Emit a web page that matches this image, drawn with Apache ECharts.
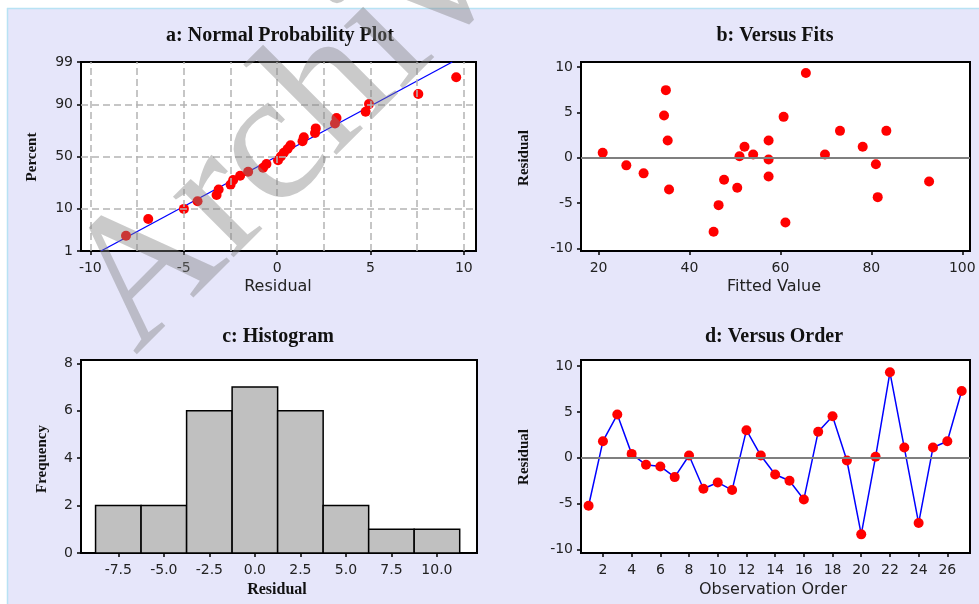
<!DOCTYPE html>
<html><head><meta charset="utf-8">
<script src="https://cdn.jsdelivr.net/npm/echarts@6/dist/echarts.min.js"></script>
<style>html,body{margin:0;padding:0;background:#fff}#c{width:979px;height:604px}</style>
</head><body><div id="c"></div>
<script>
// ---------- data ----------
// a: normal probability plot (residuals, plotted percent)
const probResid = [-8.09,-6.90,-4.99,-4.26,-3.24,-3.13,-2.49,-2.35,-1.98,-1.55,-0.75,-0.57,0.05,0.20,0.36,0.56,0.72,1.36,1.43,2.03,2.07,3.10,3.18,4.74,4.92,7.56,9.59];
const probPct = [2.55,6.2,9.85,13.5,17.15,20.8,24.45,28.1,31.75,35.4,39.05,42.7,46.35,50,53.65,57.3,60.95,64.6,68.25,71.9,75.55,79.2,82.85,86.5,90.15,93.8,97.45];
const probTicks = [1,10,50,90,99];
const fitLineResid = [-9.43, 9.38];
const fitLinePct = [1, 99];
const residTicksA = [-10,-5,0,5,10];
const residGridA = [-10,-7.5,-5,-2.5,0,2.5,5,7.5,10];
// b: versus fits
const fittedVals = [20.9,26.1,29.9,34.8,34.4,35.2,35.5,45.3,46.4,47.6,50.5,51.0,52.1,54.0,57.4,57.4,57.4,60.7,61.1,65.6,69.8,73.1,78.1,81.0,81.4,83.3,92.7];
const fitsResid = [0.55,-0.83,-1.71,7.45,4.66,1.91,-3.48,-8.14,-5.21,-2.42,-3.3,0.18,1.21,0.37,1.91,-0.18,-2.05,4.51,-7.13,9.34,0.37,2.97,1.21,-0.70,-4.33,2.97,-2.61];
const fittedTicks = [20,40,60,80,100];
const residTicks = [-10,-5,0,5,10];
// c: histogram
const histCenters = [-7.5,-5,-2.5,0,2.5,5,7.5,10];
const histCounts = [2,2,6,7,6,2,1,1];
const histBinWidth = 2.5;
const freqTicks = [0,2,4,6,8];
// d: versus order
const orderIdx = [1,2,3,4,5,6,7,8,9,10,11,12,13,14,15,16,17,18,19,20,21,22,23,24,25,26,27];
const orderResid = [-5.22,1.81,4.71,0.43,-0.76,-0.94,-2.10,0.25,-3.37,-2.68,-3.51,3.01,0.25,-1.81,-2.50,-4.53,2.83,4.53,-0.29,-8.33,0.11,9.31,1.12,-7.10,1.12,1.81,7.28];
const orderTicks = [2,4,6,8,10,12,14,16,18,20,22,24,26];

// ---------- helpers ----------
function norminv(p){
  const a=[-3.969683028665376e+01,2.209460984245205e+02,-2.759285104469687e+02,1.383577518672690e+02,-3.066479806614716e+01,2.506628277459239e+00];
  const b=[-5.447609879822406e+01,1.615858368580409e+02,-1.556989798598866e+02,6.680131188771972e+01,-1.328068155288572e+01];
  const c=[-7.784894002430293e-03,-3.223964580411365e-01,-2.400758277161838e+00,-2.549732539343734e+00,4.374664141464968e+00,2.938163982698783e+00];
  const d=[7.784695709041462e-03,3.224671290700398e-01,2.445134137142996e+00,3.754408661907416e+00];
  const pl=0.02425, ph=1-pl; let q,r;
  if(p<pl){q=Math.sqrt(-2*Math.log(p));return (((((c[0]*q+c[1])*q+c[2])*q+c[3])*q+c[4])*q+c[5])/((((d[0]*q+d[1])*q+d[2])*q+d[3])*q+1);}
  if(p<=ph){q=p-0.5;r=q*q;return (((((a[0]*r+a[1])*r+a[2])*r+a[3])*r+a[4])*r+a[5])*q/(((((b[0]*r+b[1])*r+b[2])*r+b[3])*r+b[4])*r+1);}
  q=Math.sqrt(-2*Math.log(1-p));return -(((((c[0]*q+c[1])*q+c[2])*q+c[3])*q+c[4])*q+c[5])/((((d[0]*q+d[1])*q+d[2])*q+d[3])*q+1);
}
const zTicks = probTicks.map(p => norminv(p/100));

const SANS = '"DejaVu Sans", Verdana, sans-serif';
const SERIF = '"Liberation Serif", "Times New Roman", serif';

function vAxis(gridIndex, min, max, ticks, fmt, margin){
  return {
    type:'value', gridIndex, min, max, scale:true,
    axisLine:{show:false, onZero:false},
    axisTick:{show:true, inside:false, length:4, customValues:ticks, lineStyle:{color:'#000', width:1.5}},
    axisLabel:{show:true, customValues:ticks, formatter:fmt || (v=>String(v)), color:'#222', fontFamily:SANS, fontSize:14, margin:margin||8},
    splitLine:{show:false}
  };
}
const gridStyle = {show:true, borderColor:'#000', borderWidth:2, backgroundColor:'#fff', containLabel:false};

const RED = '#ff0000';

const option = {
  animation:false,
  backgroundColor:'#e6e6fa',
  grid:[
    Object.assign({left:81, top:62, width:395, height:189}, gridStyle),
    Object.assign({left:581, top:62, width:389, height:189}, gridStyle),
    Object.assign({left:81, top:360, width:396, height:193}, gridStyle),
    Object.assign({left:581, top:360, width:389, height:193}, gridStyle)
  ],
  xAxis:[
    vAxis(0, -10.5, 10.65, residTicksA, null, 10),
    vAxis(1, 16.13, 101.7, fittedTicks, null, 10),
    vAxis(2, -9.55, 12.2, histCenters, v=>v.toFixed(1), 10),
    vAxis(3, 0.47, 27.58, orderTicks, null, 10)
  ],
  yAxis:[
    vAxis(0, zTicks[0], zTicks[zTicks.length-1], zTicks, v=>{const i=zTicks.findIndex(z=>Math.abs(z-v)<1e-6);return i>=0?String(probTicks[i]):'';}, 8),
    vAxis(1, -10.26, 10.55, residTicks, null, 8),
    vAxis(2, 0, 8.14, freqTicks, null, 8),
    vAxis(3, -10.36, 10.65, residTicks, null, 8)
  ],
  series:[
    // a: grid lines
    {type:'line', xAxisIndex:0, yAxisIndex:0, data:[], z:1, silent:true,
     markLine:{silent:true, symbol:['none','none'], label:{show:false}, animation:false,
       lineStyle:{color:'#b4b4b4', type:[7,4], width:1.5},
       data: residGridA.map(v=>({xAxis:v})).concat(zTicks.slice(1,-1).map(z=>({yAxis:z})))}},
    {type:'line', xAxisIndex:0, yAxisIndex:0, z:2, symbol:'none', silent:true,
     lineStyle:{color:'#0000ff', width:1.3},
     data: fitLineResid.map((x,i)=>[x, norminv(fitLinePct[i]/100)])},
    {type:'scatter', xAxisIndex:0, yAxisIndex:0, z:3, symbol:'circle', symbolSize:10,
     itemStyle:{color:RED, opacity:1},
     data: probResid.map((x,i)=>[x, norminv(probPct[i]/100)])},
    // b
    {type:'line', xAxisIndex:1, yAxisIndex:1, data:[], z:1, silent:true,
     markLine:{silent:true, symbol:['none','none'], label:{show:false}, animation:false,
       lineStyle:{color:'#7f7f7f', type:'solid', width:1.8}, data:[{yAxis:0}]}},
    {type:'scatter', xAxisIndex:1, yAxisIndex:1, z:3, symbol:'circle', symbolSize:10,
     itemStyle:{color:RED, opacity:1},
     data: fittedVals.map((x,i)=>[x, fitsResid[i]])},
    // c
    {type:'custom', xAxisIndex:2, yAxisIndex:2, z:2,
     data: histCenters.map((c,i)=>[c, histCounts[i]]),
     renderItem:(params, api)=>{
       const c=api.value(0), n=api.value(1);
       const p0=api.coord([c-histBinWidth/2, n]);
       const p1=api.coord([c+histBinWidth/2, 0]);
       return {type:'rect', shape:{x:p0[0], y:p0[1], width:p1[0]-p0[0], height:p1[1]-p0[1]},
               style:{fill:'#c0c0c0', stroke:'#000', lineWidth:1.5}};
     }},
    // d
    {type:'line', xAxisIndex:3, yAxisIndex:3, data:[], z:1, silent:true,
     markLine:{silent:true, symbol:['none','none'], label:{show:false}, animation:false,
       lineStyle:{color:'#7f7f7f', type:'solid', width:1.8}, data:[{yAxis:0}]}},
    {type:'line', xAxisIndex:3, yAxisIndex:3, z:3, symbol:'circle', symbolSize:10, showAllSymbol:true,
     lineStyle:{color:'#0000ff', width:1.5}, itemStyle:{color:RED, borderWidth:0, opacity:1},
     data: orderIdx.map((x,i)=>[x, orderResid[i]])}
  ],
  graphic:[
    {type:'rect', z:-5, shape:{x:0,y:0,width:979,height:8}, style:{fill:'#fff'}},
    {type:'rect', z:-5, shape:{x:0,y:0,width:7,height:604}, style:{fill:'#fff'}},
    {type:'line', z:-4, shape:{x1:7,y1:8.5,x2:979,y2:8.5}, style:{stroke:'#b8e2f4', lineWidth:1.5}},
    {type:'line', z:-4, shape:{x1:7.5,y1:8,x2:7.5,y2:604}, style:{stroke:'#b8e2f4', lineWidth:1.5}},
    // titles
    {type:'text', x:280, y:36, style:{text:'a: Normal Probability Plot', font:'bold 20px '+SERIF, fill:'#111', align:'center', verticalAlign:'middle'}},
    {type:'text', x:775, y:36, style:{text:'b: Versus Fits', font:'bold 20px '+SERIF, fill:'#111', align:'center', verticalAlign:'middle'}},
    {type:'text', x:278, y:337, style:{text:'c: Histogram', font:'bold 20px '+SERIF, fill:'#111', align:'center', verticalAlign:'middle'}},
    {type:'text', x:774, y:337, style:{text:'d: Versus Order', font:'bold 20px '+SERIF, fill:'#111', align:'center', verticalAlign:'middle'}},
    // axis names
    {type:'text', x:278, y:287, style:{text:'Residual', font:'16px '+SANS, fill:'#222', align:'center', verticalAlign:'middle'}},
    {type:'text', x:774, y:287, style:{text:'Fitted Value', font:'16px '+SANS, fill:'#222', align:'center', verticalAlign:'middle'}},
    {type:'text', x:277, y:590, style:{text:'Residual', font:'bold 16px '+SERIF, fill:'#111', align:'center', verticalAlign:'middle'}},
    {type:'text', x:773, y:590, style:{text:'Observation Order', font:'16px '+SANS, fill:'#222', align:'center', verticalAlign:'middle'}},
    {type:'text', x:32, y:157, rotation:Math.PI/2, style:{text:'Percent', font:'bold 15px '+SERIF, fill:'#111', align:'center', verticalAlign:'middle'}},
    {type:'text', x:524, y:158, rotation:Math.PI/2, style:{text:'Residual', font:'bold 15px '+SERIF, fill:'#111', align:'center', verticalAlign:'middle'}},
    {type:'text', x:42, y:459, rotation:Math.PI/2, style:{text:'Frequency', font:'bold 15px '+SERIF, fill:'#111', align:'center', verticalAlign:'middle'}},
    {type:'text', x:524, y:457, rotation:Math.PI/2, style:{text:'Residual', font:'bold 15px '+SERIF, fill:'#111', align:'center', verticalAlign:'middle'}},
    // watermark
    {type:'text', z:100, x:167, y:387, rotation:Math.PI/4, silent:true,
     style:{text:'Archive of SID', font:'187px '+SERIF, fill:'rgba(128,128,128,0.42)', align:'left', verticalAlign:'bottom'}}
  ]
};
const chart = echarts.init(document.getElementById('c'), null, {renderer:'canvas'});
chart.setOption(option);
</script></body></html>
